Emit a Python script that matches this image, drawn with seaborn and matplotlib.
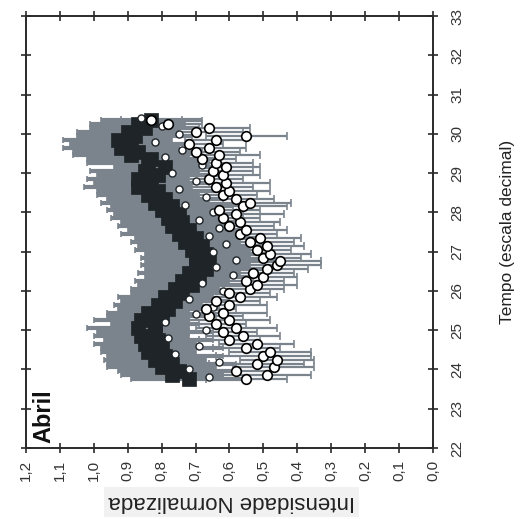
import matplotlib
matplotlib.use("Agg")
import matplotlib.pyplot as plt
import seaborn as sns
import pandas as pd

# Decimal time of day (April)
tempo = [23.75, 23.85, 23.95, 24.05, 24.15, 24.25, 24.35, 24.45, 24.55, 24.65,
         24.75, 24.85, 24.95, 25.05, 25.15, 25.25, 25.35, 25.45, 25.55, 25.65,
         25.75, 25.85, 25.95, 26.05, 26.15, 26.25, 26.35, 26.45, 26.55, 26.65,
         26.75, 26.85, 26.95, 27.05, 27.15, 27.25, 27.35, 27.45, 27.55, 27.65,
         27.75, 27.85, 27.95, 28.05, 28.15, 28.25, 28.35, 28.45, 28.55, 28.65,
         28.75, 28.85, 28.95, 29.05, 29.15, 29.25, 29.35, 29.45, 29.55, 29.65,
         29.75, 29.85, 29.95, 30.05, 30.15, 30.25, 30.35]

# Series 1: mean normalised intensity (black markers) and its deviation
media_1 = [0.72, 0.77, 0.75, 0.80, 0.77, 0.82, 0.79, 0.84, 0.80, 0.85,
           0.81, 0.86, 0.82, 0.87, 0.82, 0.86, 0.80, 0.84, 0.78, 0.81,
           0.76, 0.79, 0.74, 0.76, 0.71, 0.74, 0.69, 0.72, 0.67, 0.70,
           0.66, 0.70, 0.67, 0.71, 0.68, 0.73, 0.70, 0.75, 0.72, 0.77,
           0.74, 0.78, 0.75, 0.80, 0.77, 0.82, 0.79, 0.84, 0.81, 0.87,
           0.83, 0.87, 0.81, 0.85, 0.79, 0.84, 0.83, 0.89, 0.87, 0.92,
           0.89, 0.93, 0.88, 0.90, 0.85, 0.87, 0.83]
desvio_1 = [0.17, 0.15, 0.18, 0.16, 0.19, 0.15, 0.17, 0.14, 0.18, 0.15,
            0.16, 0.14, 0.17, 0.15, 0.13, 0.14, 0.16, 0.12, 0.15, 0.13,
            0.16, 0.14, 0.15, 0.13, 0.16, 0.14, 0.16, 0.15, 0.18, 0.16,
            0.19, 0.16, 0.18, 0.17, 0.19, 0.16, 0.18, 0.17, 0.18, 0.16,
            0.18, 0.17, 0.19, 0.16, 0.18, 0.16, 0.17, 0.15, 0.18, 0.16,
            0.17, 0.15, 0.18, 0.16, 0.15, 0.18, 0.19, 0.17, 0.19, 0.17,
            0.18, 0.16, 0.17, 0.15, 0.16, 0.14, 0.15]

# Series 2: normalised intensity (open circles) and its deviation
media_2 = [0.55, 0.49, 0.58, 0.47, 0.52, 0.46, 0.50, 0.48, 0.55, 0.52,
           0.60, 0.56, 0.62, 0.58, 0.64, 0.60, 0.66, 0.62, 0.67, 0.60,
           0.64, 0.57, 0.60, 0.54, 0.52, 0.55, 0.50, 0.53, 0.49, 0.46,
           0.45, 0.50, 0.48, 0.52, 0.49, 0.54, 0.51, 0.57, 0.55, 0.60,
           0.57, 0.62, 0.58, 0.63, 0.56, 0.54, 0.58, 0.62, 0.60, 0.64,
           0.61, 0.66, 0.62, 0.65, 0.61, 0.64, 0.68, 0.63, 0.70, 0.66,
           0.72, 0.64, 0.55, 0.70, 0.66, 0.78, 0.83]
desvio_2 = [0.12, 0.13, 0.10, 0.12, 0.14, 0.11, 0.14, 0.12, 0.10, 0.11,
            0.09, 0.11, 0.10, 0.12, 0.09, 0.12, 0.10, 0.13, 0.09, 0.11,
            0.13, 0.11, 0.12, 0.10, 0.12, 0.11, 0.10, 0.12, 0.12, 0.13,
            0.12, 0.11, 0.12, 0.10, 0.11, 0.13, 0.12, 0.11, 0.12, 0.13,
            0.12, 0.11, 0.14, 0.12, 0.13, 0.12, 0.11, 0.10, 0.12, 0.11,
            0.13, 0.10, 0.11, 0.12, 0.10, 0.11, 0.10, 0.12, 0.13, 0.11,
            0.10, 0.09, 0.12, 0.14, 0.12, 0.10, 0.09]

# Series 3: small open markers at intermediate times
tempo_3 = [23.8, 24.0, 24.2, 24.4, 24.6, 24.8, 25.0, 25.2, 25.4, 25.6,
           25.8, 26.0, 26.2, 26.4, 26.6, 26.8, 27.0, 27.2, 27.4, 27.6,
           27.8, 28.0, 28.2, 28.4, 28.6, 28.8, 29.0, 29.2, 29.4, 29.6,
           29.8, 30.0, 30.2, 30.4]
media_3 = [0.66, 0.72, 0.63, 0.76, 0.69, 0.78, 0.67, 0.79, 0.70, 0.65,
           0.72, 0.62, 0.68, 0.59, 0.64, 0.58, 0.65, 0.61, 0.66, 0.63,
           0.69, 0.65, 0.73, 0.67, 0.75, 0.70, 0.77, 0.68, 0.79, 0.74,
           0.82, 0.75, 0.80, 0.86]

intensidade_ticks = [0.0, 0.1, 0.2, 0.3, 0.4, 0.5, 0.6, 0.7, 0.8, 0.9, 1.0, 1.1, 1.2]
intensidade_labels = ["0,0", "0,1", "0,2", "0,3", "0,4", "0,5", "0,6",
                      "0,7", "0,8", "0,9", "1,0", "1,1", "1,2"]
tempo_ticks = [22, 23, 24, 25, 26, 27, 28, 29, 30, 31, 32, 33]

df1 = pd.DataFrame({"tempo": tempo, "intensidade": media_1, "desvio": desvio_1})
df2 = pd.DataFrame({"tempo": tempo, "intensidade": media_2, "desvio": desvio_2})
df3 = pd.DataFrame({"tempo": tempo_3, "intensidade": media_3})

sns.set_theme(style="ticks")
plt.rcParams["font.family"] = ["Liberation Sans", "DejaVu Sans"]

CINZA = "#7b848c"
PRETO = "#1e2427"
EIXO = "#2a2a2a"

fig = plt.figure(figsize=(5.26, 5.19), dpi=100)
ax = fig.add_axes([0.0494, 0.1368, 0.7738, 0.8323])

# horizontal deviation bars (intensity runs along x, time along y)
ax.errorbar(df1["intensidade"], df1["tempo"], xerr=df1["desvio"], fmt="none",
            ecolor=CINZA, elinewidth=3.0, capsize=2.5, capthick=1.2, zorder=1)
ax.errorbar(df2["intensidade"], df2["tempo"], xerr=df2["desvio"], fmt="none",
            ecolor=CINZA, elinewidth=1.6, capsize=3.0, capthick=1.2, zorder=1)

sns.scatterplot(data=df1, x="intensidade", y="tempo", ax=ax, marker="s",
                color=PRETO, s=95, edgecolor=PRETO, linewidth=0.5, zorder=3,
                legend=False)
sns.scatterplot(data=df3, x="intensidade", y="tempo", ax=ax, marker="o",
                color="white", s=26, edgecolor=PRETO, linewidth=1.0, zorder=3.5,
                legend=False)
sns.scatterplot(data=df2, x="intensidade", y="tempo", ax=ax, marker="o",
                color="white", s=48, edgecolor="black", linewidth=1.2, zorder=4,
                legend=False)

ax.set_xlim(1.2, 0.0)
ax.set_ylim(22, 33)
ax.set_xticks(intensidade_ticks)
ax.set_xticklabels(intensidade_labels, rotation=90)
ax.set_yticks(tempo_ticks)
ax.set_yticklabels([str(t) for t in tempo_ticks], rotation=90, va="center")

for s in ax.spines.values():
    s.set_visible(True)
    s.set_linewidth(1.4)
    s.set_color(EIXO)

ax.tick_params(axis="both", which="both", direction="inout", length=7.5,
               width=1.2, color=EIXO, labelsize=11, labelcolor="#333333")
ax.tick_params(axis="x", top=True, bottom=True, labeltop=False,
               labelbottom=True, pad=5)
ax.tick_params(axis="y", left=True, right=True, labelleft=False,
               labelright=True, pad=9)

ax.set_xlabel("Intensidade Normalizada", fontsize=16, rotation=180,
              color="#222222",
              bbox=dict(facecolor="#f1f1f1", edgecolor="none", pad=3))
ax.xaxis.label.set_rotation_mode("default")
ax.xaxis.label.set_ha("center")
ax.xaxis.label.set_va("center")
ax.xaxis.set_label_coords(0.506, -0.125)

ax.yaxis.set_label_position("right")
ax.set_ylabel("Tempo (escala decimal)", fontsize=12.5, rotation=90,
              color="#222222")
ax.yaxis.label.set_rotation_mode("default")
ax.yaxis.label.set_ha("center")
ax.yaxis.label.set_va("center")
ax.yaxis.set_label_coords(1.182, 0.5)

ax.text(0.044, 0.074, "Abril", transform=ax.transAxes, rotation=90,
        fontsize=17, fontweight="bold", ha="center", va="center",
        color="#111111")

fig.savefig("out.png", dpi=100)
